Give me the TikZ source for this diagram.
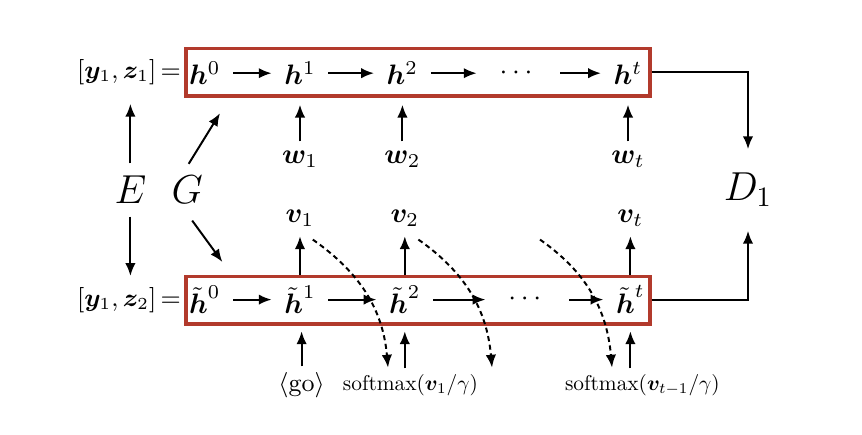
\documentclass[tikz,border=0pt]{standalone}
\usepackage{amsmath,amssymb,bm}
\usepackage{xcolor}
\usepackage{tikz}
\usetikzlibrary{arrows.meta,positioning,calc}
\definecolor{boxred}{HTML}{B23A2C}

\begin{document}
\begin{tikzpicture}[
  seqbox/.style={draw=boxred,very thick,minimum width=5.8cm,minimum height=0.59cm},
  arr/.style={-{Latex[length=1.6mm,width=1.3mm]},line width=0.7pt},
  dasharr/.style={arr,dash pattern=on 1.8pt off 1.3pt},
  lbl/.style={inner sep=1pt},
  big/.style={font=\Large}
]
\useasboundingbox (0,0) rectangle (10.775,5.425);
% the two recurrent chains
\node[seqbox] (top) at (5.225,4.52) {};
\node[seqbox] (bot) at (5.225,1.67) {};
\node[anchor=east,inner sep=1pt,font=\small] (yz1) at (top.west) {$[\bm{y}_1,\bm{z}_1]\,{=}$};
\node[anchor=east,inner sep=1pt,font=\small] (yz2) at (bot.west) {$[\bm{y}_1,\bm{z}_2]\,{=}$};

\foreach \n/\x/\s in {h0/2.56/0,h1/3.75/1,h2/5.03/2,ht/7.85/t}
  \node (\n) at (\x,4.51) {$\bm{h}^{\s}$};
\node[inner sep=7pt] (hd) at (6.48,4.51) {$\cdots$};
\foreach \n/\x/\s in {g0/2.56/0,g1/3.75/1,g2/5.06/2,gt/7.88/t}
  \node (\n) at (\x,1.68) {$\tilde{\bm{h}}^{\raisebox{2pt}{$\scriptstyle\s$}}$};
\node[inner sep=7pt] (gd) at (6.59,1.68) {$\cdots$};

\foreach \a/\b in {h0/h1,h1/h2,h2/hd,hd/ht,g0/g1,g1/g2,g2/gd,gd/gt}
  \draw[arr,shorten <=1pt,shorten >=1pt] (\a) -- (\b);

% inputs and outputs
\foreach \i in {1,2,t} {
  \node (w\i) at (h\i |- 0,3.43) {$\bm{w}_{\i}$};
  \draw[arr,shorten >=2.5pt] (w\i) -- (h\i |- top.south);
  \node (v\i) at (g\i |- 0,2.70) {$\bm{v}_{\i}$};
  \draw[arr] (g\i |- bot.north) -- (v\i);
}
\node[lbl,font=\small] (go) at (3.77,0.61) {$\langle\mathrm{go}\rangle$};
\node[lbl] (sm1) at (5.13,0.61) {\scalebox{0.76}{softmax$(\bm{v}_1/\gamma)$}};
\node[lbl] (smt) at (8.03,0.61) {\scalebox{0.76}{softmax$(\bm{v}_{t-1}/\gamma)$}};
\draw[arr,shorten <=1pt,shorten >=2pt] (go) -- (go |- bot.south);
\draw[arr,shorten <=1pt,shorten >=2pt] (g2 |- sm1.north) -- (g2 |- bot.south);
\draw[arr,shorten <=1pt,shorten >=2pt] (gt |- smt.north) -- (gt |- bot.south);

% feedback of the outputs
\coordinate (f1) at (3.91,2.43);  \coordinate (e1) at (4.85,0.83);
\coordinate (f2) at (5.23,2.43);  \coordinate (e2) at (6.15,0.83);
\coordinate (f3) at (6.75,2.43);  \coordinate (e3) at (7.65,0.83);
\foreach \i in {1,2,3}
  \draw[dasharr] (f\i) to[out=-35,in=95] (e\i);

% encoder, generator, discriminator
\node[big] (E) at (1.63,3.05) {$E$};
\node[big] (G) at (2.34,3.05) {$G$};
\node[big] (D1) at (9.35,3.05) {$D_1$};
\coordinate (gt1) at (2.75,4.01);
\coordinate (gb1) at (2.78,2.15);
\draw[arr,shorten <=1pt,shorten >=5.5pt] (E) -- (E |- yz1.south);
\draw[arr,shorten <=1pt,shorten >=3pt] (E) -- (E |- yz2.north);
\draw[arr,shorten <=1pt] (G.north) -- (gt1);
\draw[arr,shorten <=3pt] (G.south) -- (gb1);
\draw[arr,shorten >=5pt] (top.east) -| (D1);
\draw[arr,shorten >=5pt] (bot.east) -| (D1);
\end{tikzpicture}
\end{document}
